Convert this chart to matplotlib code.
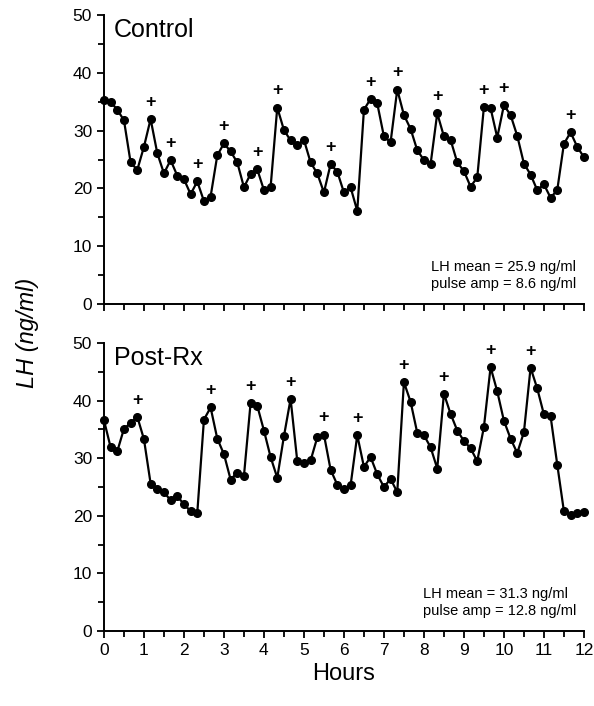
import matplotlib.pyplot as plt
import numpy as np
from matplotlib.ticker import MultipleLocator

plt.rcParams['font.family'] = ['Liberation Sans', 'DejaVu Sans']

# LH samples every 10 minutes over 12 hours (73 points)
hours = np.arange(73) / 6.0

lh_control = [35.3, 35.0, 33.6, 31.8, 24.5, 23.2, 27.2, 32.0, 26.1, 22.6,
              24.9, 22.2, 21.6, 19.0, 21.2, 17.8, 18.6, 25.7, 27.8, 26.4,
              24.5, 20.2, 22.5, 23.3, 19.7, 20.2, 34.0, 30.1, 28.3, 27.5,
              28.4, 24.5, 22.6, 19.3, 24.2, 22.9, 19.3, 20.2, 16.1, 33.6,
              35.5, 34.7, 29.0, 28.0, 37.1, 32.7, 30.3, 26.6, 24.9, 24.2,
              33.0, 29.0, 28.4, 24.5, 23.0, 20.3, 21.9, 34.1, 33.9, 28.8,
              34.4, 32.7, 29.1, 24.3, 22.4, 19.7, 20.7, 18.4, 19.7, 27.7,
              29.7, 27.2, 25.4]

lh_postrx = [36.6, 31.9, 31.2, 35.1, 36.1, 37.2, 33.3, 25.6, 24.7, 24.1,
             22.7, 23.4, 22.0, 20.8, 20.5, 36.7, 38.8, 33.4, 30.7, 26.3,
             27.5, 26.9, 39.6, 39.1, 34.8, 30.2, 26.6, 33.8, 40.3, 29.5,
             29.1, 29.6, 33.6, 34.1, 28.0, 25.4, 24.7, 25.3, 34.0, 28.5,
             30.2, 27.2, 25.0, 26.4, 24.1, 43.2, 39.8, 34.4, 34.0, 31.9,
             28.2, 41.2, 37.7, 34.8, 33.0, 31.7, 29.5, 35.4, 45.8, 41.6,
             36.5, 33.4, 30.9, 34.5, 45.7, 42.1, 37.6, 37.3, 28.9, 20.8,
             20.2, 20.5, 20.7]

# sample indices flagged as pulses (+)
pulses_control = [7, 10, 14, 18, 23, 26, 34, 40, 44, 50, 57, 60, 70]
pulses_postrx = [5, 16, 22, 28, 33, 38, 45, 51, 58, 64]

panels = [
    ("Control", lh_control, pulses_control,
     "LH mean = 25.9 ng/ml\npulse amp = 8.6 ng/ml"),
    ("Post-Rx", lh_postrx, pulses_postrx,
     "LH mean = 31.3 ng/ml\npulse amp = 12.8 ng/ml"),
]

fig = plt.figure(figsize=(5.94, 7.06), dpi=100)
ax_top = fig.add_axes([0.175, 0.5694, 0.808, 0.4093])
ax_bot = fig.add_axes([0.175, 0.1062, 0.808, 0.4080])

for ax, (name, values, pulses, stats) in zip([ax_top, ax_bot], panels):
    ax.plot(hours, values, color='black', lw=1.6, marker='o',
            markersize=5.5, clip_on=False, zorder=3)
    for i in pulses:
        ax.annotate("+", (hours[i], values[i]), xytext=(0, 12),
                    textcoords='offset points', ha='center', va='center',
                    fontsize=13, fontweight='bold')
    ax.set_xlim(0, 12)
    ax.set_ylim(0, 50)
    ax.spines['top'].set_visible(False)
    ax.spines['right'].set_visible(False)
    ax.spines['left'].set_linewidth(1.4)
    ax.spines['bottom'].set_linewidth(1.4)
    ax.xaxis.set_major_locator(MultipleLocator(1))
    ax.xaxis.set_minor_locator(MultipleLocator(0.5))
    ax.yaxis.set_major_locator(MultipleLocator(10))
    ax.yaxis.set_minor_locator(MultipleLocator(5))
    ax.tick_params(which='both', direction='out', width=1.3, labelsize=12.5)
    ax.tick_params(which='major', length=5)
    ax.tick_params(which='minor', length=4)
    ax.text(0.02, 0.99, name, transform=ax.transAxes, ha='left', va='top',
            fontsize=18)
    ax.text(0.985, 0.045, stats, transform=ax.transAxes, ha='right',
            va='bottom', fontsize=10.5, linespacing=1.3,
            multialignment='left')

ax_top.tick_params(labelbottom=False)
ax_bot.set_xlabel("Hours", fontsize=17, labelpad=4)
fig.text(0.047, 0.528, "LH (ng/ml)", rotation=90, ha='center', va='center',
         fontsize=17, style='italic')

fig.savefig("out.png", dpi=100)
